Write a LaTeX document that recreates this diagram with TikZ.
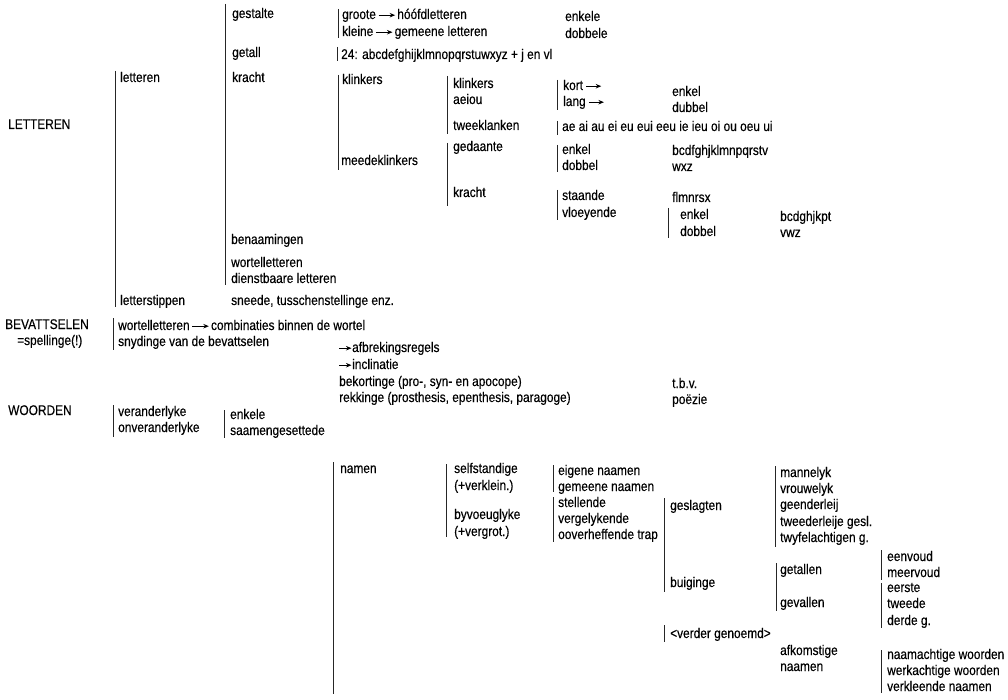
\documentclass[tikz,border=0pt]{standalone}
\usepackage{fontspec}
\setmainfont{Liberation Sans}[FakeStretch=0.85,FakeBold=0.3]
\usetikzlibrary{arrows.meta}
\tikzset{
  lbl/.style={anchor=base west, inner sep=0pt, font=\fontsize{14pt}{16pt}\selectfont, text=black},
  bar/.style={line width=1pt, draw=black!85},
  arr/.style={-{Stealth[length=5.5pt,width=4.5pt]}, line width=0.9pt, draw=black}
}
\begin{document}
\begin{tikzpicture}[x=1pt,y=-1pt]
\fill[white] (0,0) rectangle (1008,700);
\useasboundingbox (0,0) rectangle (1008,700);

% ---------- LETTEREN ----------
\node[lbl] (LETTEREN) at (8,129) {LETTEREN};
\node[lbl] (letteren) at (120,82) {letteren};
\node[lbl] (letterstippen) at (120,305) {letterstippen};
\draw[bar] (115,71) -- (115,307);

\node[lbl] (gestalte) at (232,18) {gestalte};
\node[lbl] (getall) at (232,57) {getall};
\node[lbl] (kracht1) at (232,82) {kracht};
\node[lbl] (benaamingen) at (231,244) {benaamingen};
\node[lbl] (wortelletteren) at (231,267) {wortelletteren};
\node[lbl] (dienstbaare) at (231,283) {dienstbaare letteren};
\node[lbl] (sneede) at (231,305) {sneede, tusschenstellinge enz.};
\draw[bar] (225,4) -- (225,285);

\node[lbl] (groote) at (342,19) {groote};
\node[lbl] (hoofd) at ([xshift=21pt]groote.base east) {hóófdletteren};
\node[lbl] (kleine) at (342,36) {kleine};
\node[lbl] (gemeene) at ([xshift=21pt]kleine.base east) {gemeene letteren};
\draw[arr] ([shift={(2.5pt,3.8pt)}]groote.base east) -- ([shift={(-2pt,3.8pt)}]hoofd.base west);
\draw[arr] ([shift={(2.5pt,3.8pt)}]kleine.base east) -- ([shift={(-2pt,3.8pt)}]gemeene.base west);
\draw[bar] (338,9) -- (338,38);
\node[lbl] (enkele1) at (565,21) {enkele};
\node[lbl] (dobbele) at (565,38) {dobbele};

\node[lbl] (alfabet) at (341,59) {24: abcdefghijklmnopqrstuwxyz + j en vl};
\draw[bar] (337,47) -- (337,61);

\node[lbl] (klinkersA) at (342,84) {klinkers};
\node[lbl] (meedeklinkers) at (341,165) {meedeklinkers};
\draw[bar] (338,75) -- (338,170);

\node[lbl] (klinkersB) at (453,88) {klinkers};
\node[lbl] (aeiou) at (453,104) {aeiou};
\node[lbl] (tweeklanken) at (453,130) {tweeklanken};
\draw[bar] (447,76) -- (447,134);

\node[lbl] (kort) at (563,90) {kort};
\node[lbl] (lang) at (563,106) {lang};
\draw[arr] ([shift={(3pt,3.8pt)}]kort.base east) -- ++(15pt,0pt);
\draw[arr] ([shift={(3pt,3.8pt)}]lang.base east) -- ++(15pt,0pt);
\draw[bar] (557,80) -- (557,110);
\node[lbl] (enkelA) at (672,96) {enkel};
\node[lbl] (dubbel) at (672,112) {dubbel};

\node[lbl] (ae) at (562,131) {ae ai au ei eu eui eeu ie ieu oi ou oeu ui};
\draw[bar] (557,121) -- (557,135);

\node[lbl] (gedaante) at (453,151) {gedaante};
\node[lbl] (kracht2) at (453,197) {kracht};
\draw[bar] (447,143) -- (447,206);

\node[lbl] (enkelB) at (562,154) {enkel};
\node[lbl] (dobbelB) at (562,170) {dobbel};
\draw[bar] (557,145) -- (557,172);
\node[lbl] (bcdf) at (672,155) {bcdfghjklmnpqrstv};
\node[lbl] (wxz) at (672,171) {wxz};

\node[lbl] (staande) at (562,200) {staande};
\node[lbl] (vloeyende) at (562,217) {vloeyende};
\draw[bar] (557,190) -- (557,220);
\node[lbl] (flmnrsx) at (672,202) {flmnrsx};
\node[lbl] (enkelC) at (680,219) {enkel};
\node[lbl] (dobbelC) at (680,236) {dobbel};
\draw[bar] (668,208) -- (668,238);
\node[lbl] (bcdghjkpt) at (780,221) {bcdghjkpt};
\node[lbl] (vwz) at (780,237) {vwz};

% ---------- BEVATTSELEN ----------
\node[lbl] (BEVATTSELEN) at (5,329) {BEVATTSELEN};
\node[lbl] (spellinge) at (17,345) {=spellinge(!)};
\node[lbl] (wortel2) at (118,330) {wortelletteren};
\node[lbl] (combinaties) at ([xshift=21pt]wortel2.base east) {combinaties binnen de wortel};
\draw[arr] ([shift={(2.5pt,3.8pt)}]wortel2.base east) -- ([shift={(-2pt,3.8pt)}]combinaties.base west);
\node[lbl] (snydinge) at (118,346) {snydinge van de bevattselen};
\draw[bar] (113,318) -- (113,350);

\node[lbl] (afbrek) at (352,352) {afbrekingsregels};
\node[lbl] (inclinatie) at (352,369) {inclinatie};
\draw[arr] ([shift={(-13pt,3.8pt)}]afbrek.base west) -- ([shift={(-0.5pt,3.8pt)}]afbrek.base west);
\draw[arr] ([shift={(-13pt,3.8pt)}]inclinatie.base west) -- ([shift={(-0.5pt,3.8pt)}]inclinatie.base west);
\node[lbl] (bekortinge) at (339,386) {bekortinge (pro-, syn- en apocope)};
\node[lbl] (rekkinge) at (339,402) {rekkinge (prosthesis, epenthesis, paragoge)};
\node[lbl] (tbv) at (672,388) {t.b.v.};
\node[lbl] (poezie) at (672,404) {poëzie};

% ---------- WOORDEN ----------
\node[lbl] (WOORDEN) at (8,415) {WOORDEN};
\node[lbl] (veranderlyke) at (118,416) {veranderlyke};
\node[lbl] (onveranderlyke) at (118,432) {onveranderlyke};
\draw[bar] (113,405) -- (113,437);
\node[lbl] (enkeleW) at (230,419) {enkele};
\node[lbl] (saamengesettede) at (230,435) {saamengesettede};
\draw[bar] (224,410) -- (224,438);

\node[lbl] (namen) at (340,473) {namen};
\draw[bar] (333,462) -- (333,694);

\node[lbl] (selfstandige) at (454,473) {selfstandige};
\node[lbl] (verklein) at (454,490) {(+verklein.)};
\node[lbl] (byvoeuglyke) at (454,519) {byvoeuglyke};
\node[lbl] (vergrot) at (454,536) {(+vergrot.)};
\draw[bar] (446,464) -- (446,537);

\node[lbl] (eigene) at (558,475) {eigene naamen};
\node[lbl] (gemeeneN) at (558,491) {gemeene naamen};
\draw[bar] (553,465) -- (553,492);
\node[lbl] (stellende) at (558,507) {stellende};
\node[lbl] (vergelykende) at (558,523) {vergelykende};
\node[lbl] (ooverheffende) at (558,539) {ooverheffende trap};
\draw[bar] (553,497) -- (553,542);

\node[lbl] (geslagten) at (670,510) {geslagten};
\node[lbl] (buiginge) at (670,587) {buiginge};
\draw[bar] (664,498) -- (664,592);

\node[lbl] (mannelyk) at (780,477) {mannelyk};
\node[lbl] (vrouwelyk) at (780,493) {vrouwelyk};
\node[lbl] (geenderleij) at (780,509) {geenderleij};
\node[lbl] (tweederleije) at (780,526) {tweederleije gesl.};
\node[lbl] (twyfelachtigen) at (780,542) {twyfelachtigen g.};
\draw[bar] (775,466) -- (775,547);

\node[lbl] (getallen) at (780,574) {getallen};
\node[lbl] (gevallen) at (780,607) {gevallen};
\draw[bar] (776,563) -- (776,611);

\node[lbl] (eenvoud) at (887,561) {eenvoud};
\node[lbl] (meervoud) at (887,577) {meervoud};
\draw[bar] (881,550) -- (881,580);
\node[lbl] (eerste) at (887,592) {eerste};
\node[lbl] (tweede) at (887,608) {tweede};
\node[lbl] (derde) at (887,625) {derde g.};
\draw[bar] (881,583) -- (881,628);

\node[lbl] (verder) at (670,638) {<verder genoemd>};
\draw[bar] (664,625) -- (664,642);

\node[lbl] (afkomstige) at (780,655) {afkomstige};
\node[lbl] (naamen) at (780,671) {naamen};

\node[lbl] (naamachtige) at (887,659) {naamachtige woorden};
\node[lbl] (werkachtige) at (887,675) {werkachtige woorden};
\node[lbl] (verkleende) at (887,691) {verkleende naamen};
\draw[bar] (881,650) -- (881,693);
\end{tikzpicture}
\end{document}
